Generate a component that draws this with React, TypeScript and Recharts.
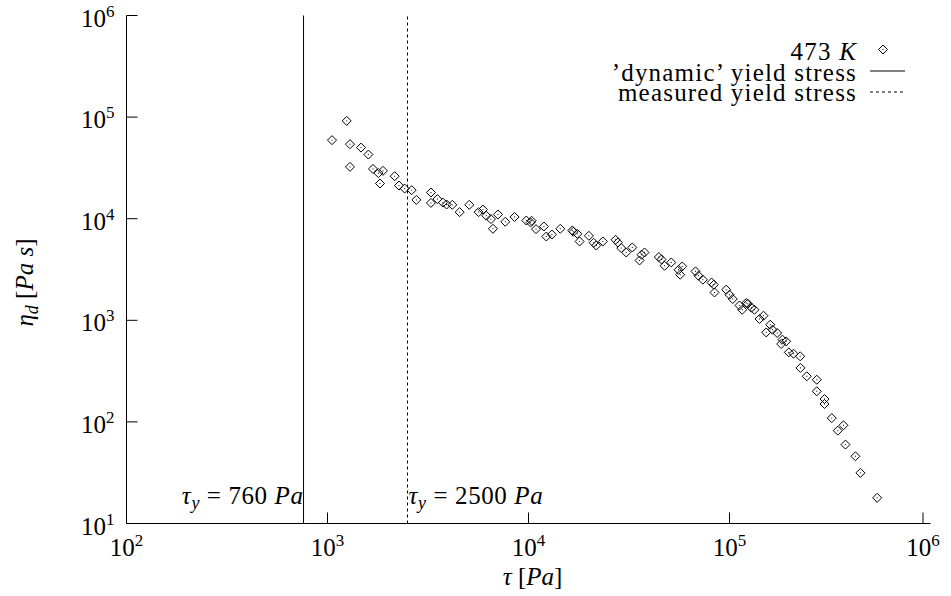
import { Legend, ReferenceLine, Scatter, ScatterChart, XAxis, YAxis } from "recharts";

// shear stress tau [Pa] and dynamic viscosity eta_d [Pa s], 473 K
const TAU_PA = [
    1053, 1246, 1294, 1294, 1468, 1597, 1684, 1791, 1824, 1888,
    2159, 2268, 2421, 2623, 2767, 3271, 3271, 3520, 3752, 3915,
    4179, 4544, 5077, 5647, 5934, 6169, 6502, 6653, 7044, 7665,
    8527, 9750, 10240, 10360, 10900, 11930, 12260, 13070, 14390, 16510,
    16710, 17490, 17960, 19970, 21080, 21740, 23440, 27110, 27840, 28940,
    30640, 32830, 35680, 36510, 37790, 44500, 45900, 47530, 51310, 55780,
    56870, 58190, 67740, 70140, 73650, 81380, 83550, 84230, 96300, 100000,
    103800, 112100, 115700, 121100, 123300, 128600, 133100, 141000, 147600, 152300,
    159400, 163600, 172700, 180800, 183400, 191400, 197200, 208100, 224700, 225500,
    242300, 271800, 271800, 296800, 296800, 322700, 345700, 369000, 377500, 423200,
    448200, 542600,
];
const ETA_D = [
    59300, 91700, 54100, 32400, 50100, 42800, 30900, 28100, 22200, 29600,
    26200, 21200, 19800, 19100, 15300, 18100, 14300, 15600, 14400, 13800,
    13700, 11600, 13700, 11600, 12300, 10700, 9910, 7960, 11000, 9320,
    10400, 9600, 9180, 9540, 7900, 8380, 6680, 6990, 7960, 7660,
    7430, 7100, 5970, 6790, 5800, 5450, 5970, 6200, 5830, 5140,
    4650, 5210, 3880, 4420, 4650, 4190, 3970, 3440, 3710, 3140,
    2810, 3390, 3030, 2745, 2510, 2356, 2240, 1880, 2000, 1785,
    1620, 1400, 1270, 1480, 1456, 1330, 1270, 1030, 1110, 760,
    905, 808, 750, 585, 645, 620, 483, 469, 442, 340,
    281, 260, 200, 168, 150, 109, 82, 92.6, 59.8, 45.9,
    31.5, 17.9,
];

const X_TICKS = [1e2, 1e3, 1e4, 1e5, 1e6];
const Y_TICKS = [1e1, 1e2, 1e3, 1e4, 1e5, 1e6];

const YIELD_DYNAMIC = 760;
const YIELD_MEASURED = 2500;

const LEGEND_LABELS = ["473", "\u2019dynamic\u2019 yield stress", "measured yield stress"];

const FONT = "'Liberation Serif', 'Times New Roman', serif";
const TICK = 11;

const points = TAU_PA.map((tau, i) => ({ tau, eta: ETA_D[i] }));

const exp10 = (v: number) => Math.round(Math.log10(v));

const Diamond = ({ cx, cy }: any) => (
    <g>
        <path
            d={`M${cx},${cy - 4.5}L${cx + 4.5},${cy}L${cx},${cy + 4.5}L${cx - 4.5},${cy}Z`}
            fill="none"
            stroke="#000"
            strokeWidth={1}
        />
        <rect x={cx - 0.5} y={cy - 0.5} width={1} height={1} fill="#000" />
    </g>
);

const BottomTick = ({ x, y, payload }: any) => (
    <g>
        <line x1={x} x2={x} y1={y} y2={y - TICK} stroke="#000" />
        <text x={x} y={y + 32} textAnchor="middle" fontFamily={FONT} fontSize={25} fill="#000">
            10
            <tspan dy={-10} fontSize={17}>
                {exp10(payload.value)}
            </tspan>
        </text>
    </g>
);

const LeftTick = ({ x, y, payload }: any) => (
    <g>
        <line x1={x} x2={x + TICK} y1={y} y2={y} stroke="#000" />
        <text x={x - 12} y={y + 11} textAnchor="end" fontFamily={FONT} fontSize={25} fill="#000">
            10
            <tspan dy={-10} fontSize={17}>
                {exp10(payload.value)}
            </tspan>
        </text>
    </g>
);

const TopTick = ({ x, y }: any) => <line x1={x} x2={x} y1={y} y2={y + TICK} stroke="#000" />;
const RightTick = ({ x, y }: any) => <line x1={x} x2={x - TICK} y1={y} y2={y} stroke="#000" />;

const XTitle = ({ viewBox }: any) => (
    <text
        x={viewBox.x + viewBox.width / 2 + 4}
        y={viewBox.y + 61}
        textAnchor="middle"
        fontFamily={FONT}
        fontSize={25}
        fill="#000"
    >
        <tspan fontStyle="italic">τ</tspan> [<tspan fontStyle="italic">Pa</tspan>]
    </text>
);

const YTitle = ({ viewBox }: any) => {
    const x = viewBox.x + 26;
    const y = viewBox.y + viewBox.height / 2 + 13;
    return (
        <text
            x={x}
            y={y}
            transform={`rotate(-90 ${x} ${y})`}
            textAnchor="middle"
            fontFamily={FONT}
            fontSize={25}
            fill="#000"
        >
            <tspan fontStyle="italic">η</tspan>
            <tspan fontStyle="italic" fontSize={18} dy={5}>
                d
            </tspan>
            <tspan dy={-5}> [</tspan>
            <tspan fontStyle="italic">Pa s</tspan>]
        </text>
    );
};

const yieldLabel = (value: number, side: "left" | "right") => ({ viewBox }: any) => (
    <text
        x={side === "left" ? viewBox.x : viewBox.x + 1}
        y={viewBox.y + viewBox.height - 20}
        textAnchor={side === "left" ? "end" : "start"}
        fontFamily={FONT}
        fontSize={25}
        letterSpacing={0.6}
        fill="#000"
    >
        <tspan fontStyle="italic">τ</tspan>
        <tspan fontStyle="italic" fontSize={18} dy={5}>
            y
        </tspan>
        <tspan dy={-5}> = {value} </tspan>
        <tspan fontStyle="italic">Pa</tspan>
    </text>
);

const KeyBox = () => (
    <svg width={330} height={80} style={{ display: "block" }}>
        <g fontFamily={FONT} fontSize={25} fill="#000" textAnchor="end" letterSpacing={1.2}>
            <text x={257} y={25}>
                {LEGEND_LABELS[0]} <tspan fontStyle="italic">K</tspan>
            </text>
            <text x={257} y={45.5}>
                {LEGEND_LABELS[1]}
            </text>
            <text x={257} y={66}>
                {LEGEND_LABELS[2]}
            </text>
        </g>
        <Diamond cx={283} cy={14.5} />
        <line x1={270} x2={305} y1={36} y2={36} stroke="#000" />
        <line x1={270} x2={305} y1={57} y2={57} stroke="#000" strokeDasharray="3 3" />
    </svg>
);

export default function App() {
    return (
        <div style={{ position: "absolute", left: 0, top: 0, background: "#fff" }}>
            <ScatterChart
                width={951}
                height={596}
                margin={{ top: 15.5, right: 20.5, bottom: 12.5, left: 6.5 }}
            >
                <XAxis
                    xAxisId="b"
                    dataKey="tau"
                    type="number"
                    scale="log"
                    domain={[1e2, 1e6]}
                    ticks={X_TICKS}
                    allowDataOverflow
                    height={60}
                    tickSize={0}
                    tickMargin={0}
                    tickLine={false}
                    axisLine={{ stroke: "#000" }}
                    tick={<BottomTick />}
                    label={XTitle}
                />
                <XAxis
                    xAxisId="t"
                    orientation="top"
                    type="number"
                    scale="log"
                    domain={[1e2, 1e6]}
                    ticks={X_TICKS}
                    allowDataOverflow
                    height={0}
                    tickSize={0}
                    tickMargin={0}
                    tickLine={false}
                    axisLine={{ stroke: "#000" }}
                    tick={<TopTick />}
                />
                <YAxis
                    yAxisId="l"
                    dataKey="eta"
                    type="number"
                    scale="log"
                    domain={[1e1, 1e6]}
                    ticks={Y_TICKS}
                    allowDataOverflow
                    width={120}
                    tickSize={0}
                    tickMargin={0}
                    tickLine={false}
                    axisLine={{ stroke: "#000" }}
                    tick={<LeftTick />}
                    label={YTitle}
                />
                <YAxis
                    yAxisId="r"
                    orientation="right"
                    type="number"
                    scale="log"
                    domain={[1e1, 1e6]}
                    ticks={Y_TICKS}
                    allowDataOverflow
                    width={0}
                    tickSize={0}
                    tickMargin={0}
                    tickLine={false}
                    axisLine={{ stroke: "#000" }}
                    tick={<RightTick />}
                />
                <ReferenceLine
                    xAxisId="b"
                    yAxisId="l"
                    x={YIELD_DYNAMIC}
                    stroke="#000"
                    strokeWidth={1}
                    label={yieldLabel(YIELD_DYNAMIC, "left")}
                />
                <ReferenceLine
                    xAxisId="b"
                    yAxisId="l"
                    x={YIELD_MEASURED}
                    stroke="#000"
                    strokeWidth={1}
                    strokeDasharray="3 3"
                    label={yieldLabel(YIELD_MEASURED, "right")}
                />
                <Scatter
                    xAxisId="b"
                    yAxisId="l"
                    name="473 K"
                    data={points}
                    shape={<Diamond />}
                    isAnimationActive={false}
                />
                <Legend
                    layout="horizontal"
                    verticalAlign="middle"
                    align="center"
                    content={<KeyBox />}
                    wrapperStyle={{ left: 600, top: 35, width: 330, height: 80 }}
                />
            </ScatterChart>
        </div>
    );
}
